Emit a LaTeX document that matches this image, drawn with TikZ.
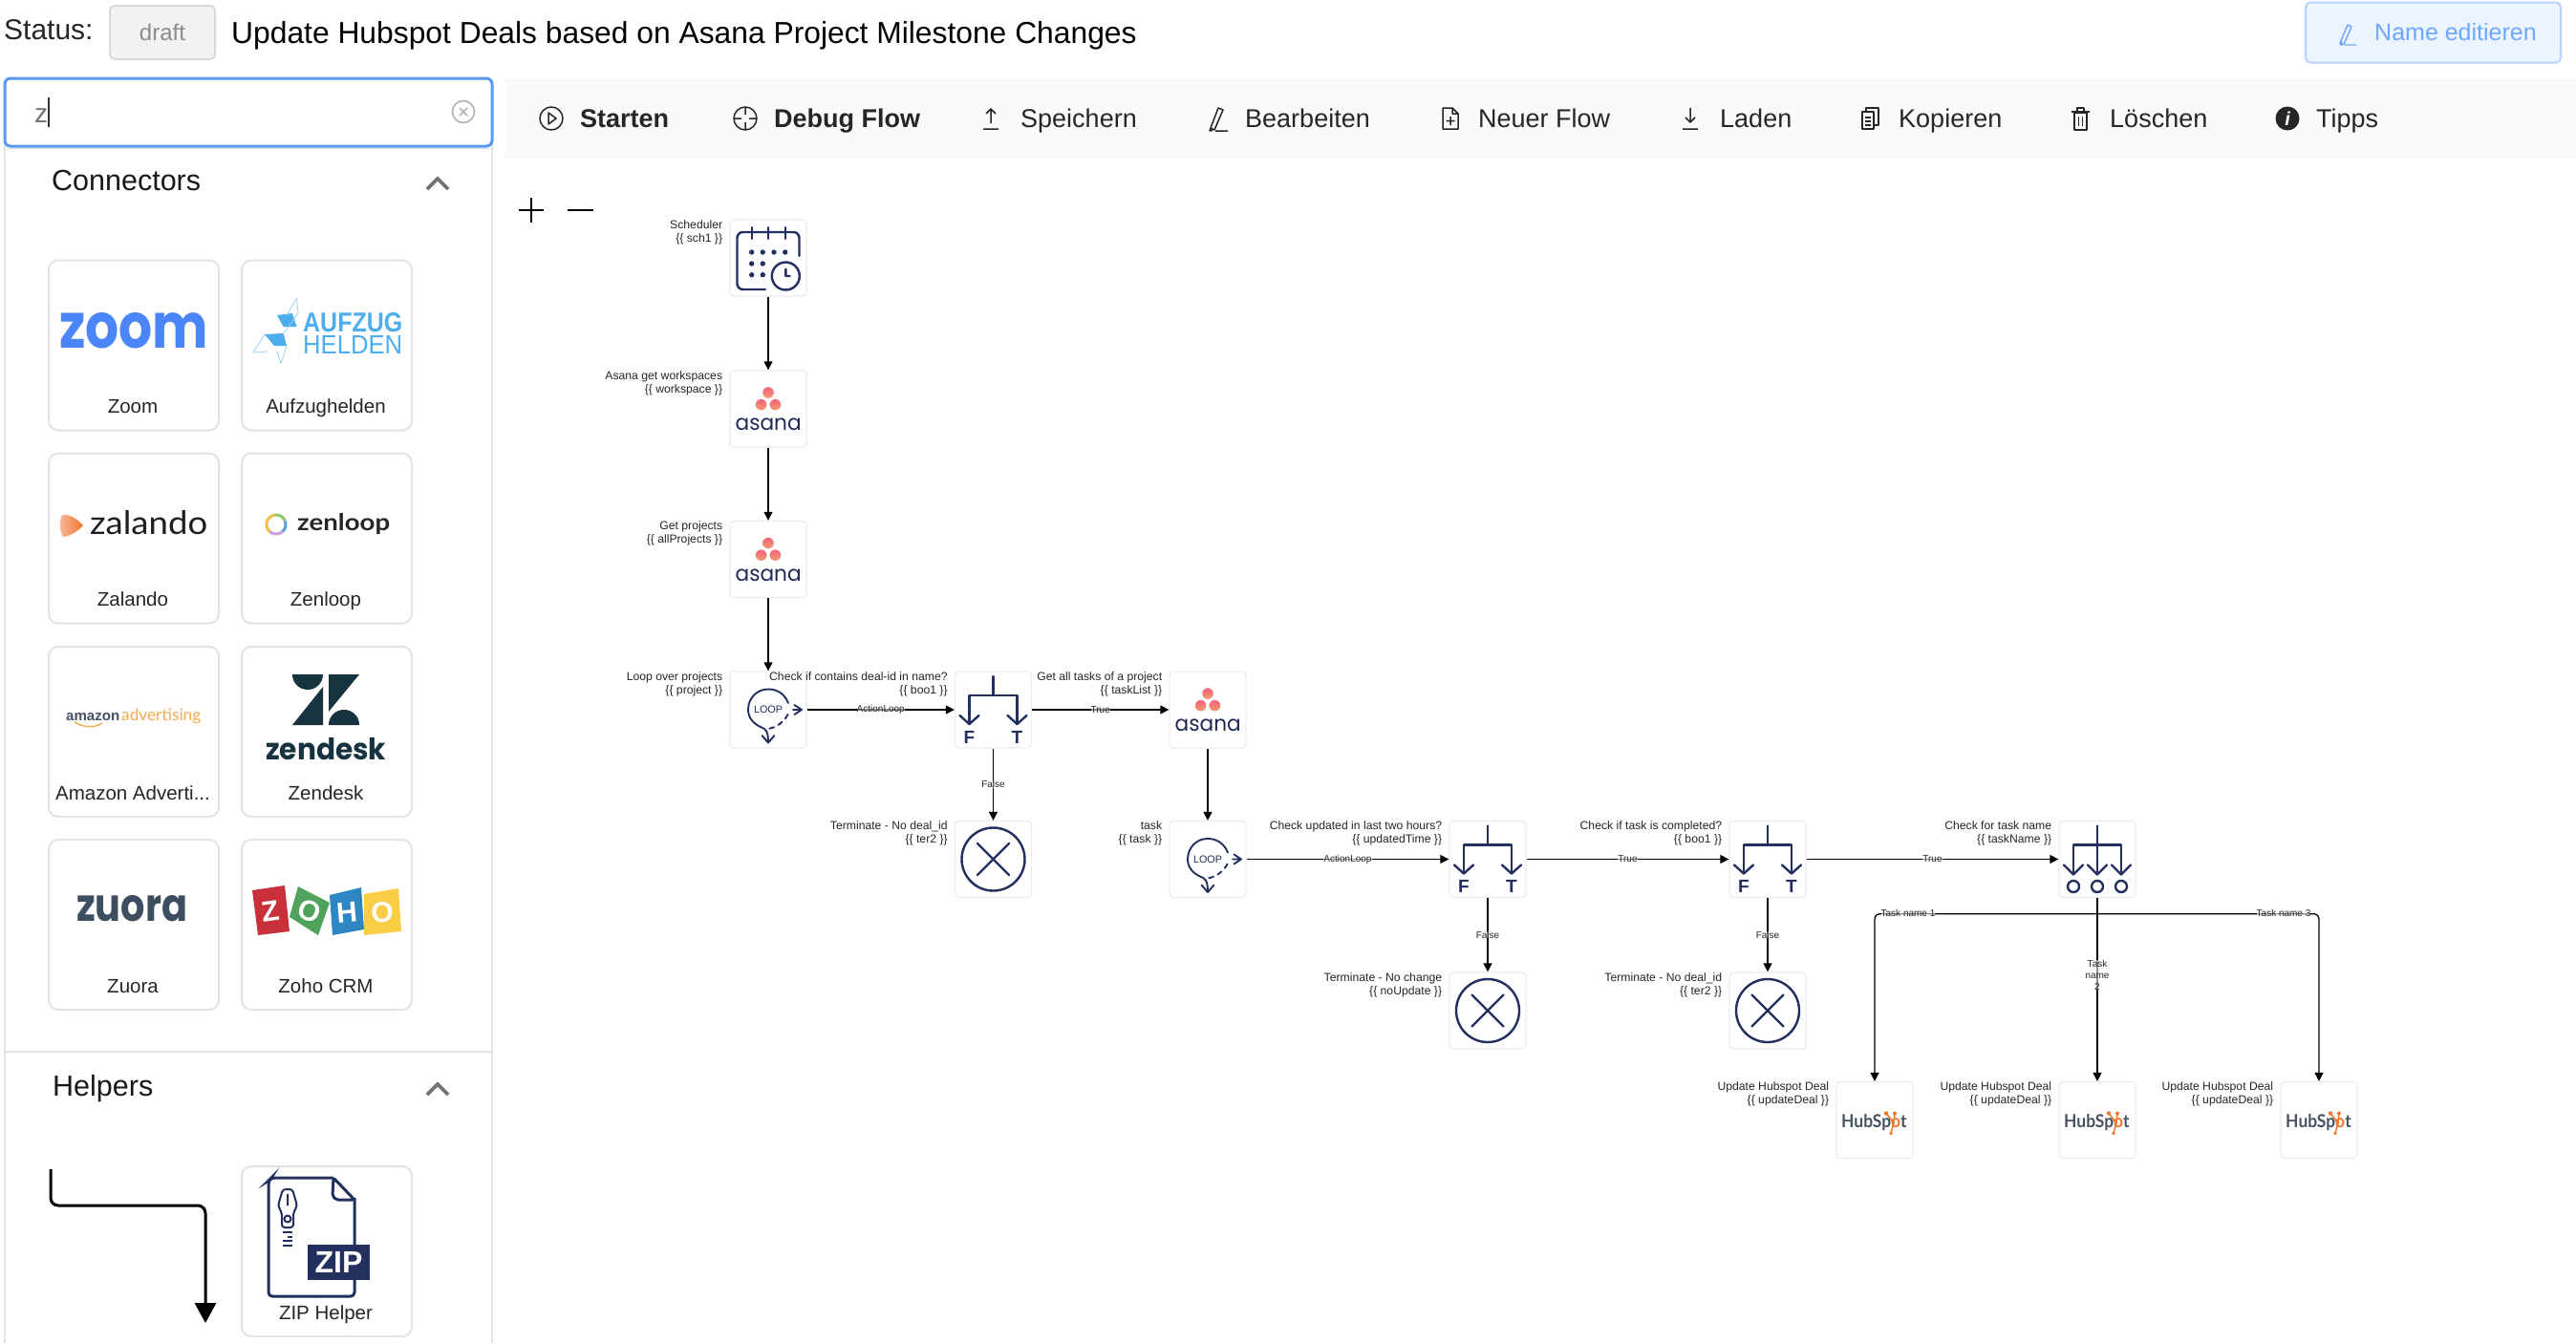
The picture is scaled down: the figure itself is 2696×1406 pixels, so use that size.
\documentclass[tikz,border=0pt]{standalone}
\usepackage{fontspec}
\usepackage{graphicx}
\setmainfont{Liberation Sans}
\newfontfamily\logof{Poppins}
\newfontfamily\latof{Lato}
\usetikzlibrary{arrows.meta,calc}
\definecolor{navy}{HTML}{232F5F}
\definecolor{cardline}{HTML}{E3E3E3}
\definecolor{stepline}{HTML}{EDEDED}
\definecolor{barbg}{HTML}{FAFAFA}
\definecolor{txt}{HTML}{262626}
\definecolor{pink}{HTML}{F0647F}
\definecolor{peach}{HTML}{F59A6E}
\definecolor{hsgray}{HTML}{465364}
\definecolor{hsorange}{HTML}{F0782D}
\definecolor{zen}{HTML}{17333F}
\definecolor{btn}{HTML}{6EA8FE}
\definecolor{searchblue}{HTML}{5899F0}
\definecolor{zoomblue}{HTML}{4A86F7}
\definecolor{azblue}{HTML}{4DAEEE}
\definecolor{azlight}{HTML}{96D0F5}
\definecolor{amzo}{HTML}{F5A94F}
\definecolor{zuo}{HTML}{3D4E60}
\definecolor{zored}{HTML}{C9303A}
\definecolor{zogreen}{HTML}{4FA35C}
\definecolor{zoblue}{HTML}{2F86C5}
\definecolor{zoyel}{HTML}{F9CE45}
\definecolor{ringa}{HTML}{F5BE46}
\definecolor{ringb}{HTML}{8CC86E}
\definecolor{ringc}{HTML}{5AA0E1}
\definecolor{ringd}{HTML}{CDA0E1}
\tikzset{
  flowstep/.style={draw=stepline,line width=1.3pt,fill=white,rounded corners=4pt,minimum width=80pt,minimum height=80pt,inner sep=0pt},
  cap1/.style={inner sep=0pt,align=right,anchor=north east,text=txt,font=\fontsize{12.2}{13.7}\selectfont},
  flow/.style={draw=black,line width=1.3pt,-{Triangle[length=9pt,width=9pt]}},
  elabel/.style={inner sep=0pt,fill=white,fill opacity=.55,text opacity=1,text=txt,align=center,font=\fontsize{10}{12}\selectfont},
  icon/.style={draw=navy,line width=2.4pt,line cap=round,line join=round},
  card/.style={draw=cardline,line width=2pt,fill=white,rounded corners=10pt,minimum width=178pt,minimum height=178pt,inner sep=0pt},
  cardtxt/.style={inner sep=0pt,anchor=base,text=txt,font=\fontsize{20.5}{24}\selectfont},
  barlbl/.style={inner sep=0pt,anchor=base west,text=txt,font=\fontsize{27}{30}\selectfont},
  baricon/.style={draw=txt,line width=1.5pt,line join=round},
  logo/.style={inner sep=0pt,anchor=base west},
}
\newcommand\IcAsana[2]{\begin{scope}[shift={(#1)}]
  \shade[top color=pink,bottom color=peach] (0,-17) circle (5.8);
  \shade[top color=pink,bottom color=peach] (-7.4,-4.3) circle (5.8);
  \shade[top color=pink,bottom color=peach] (7.4,-4.3) circle (5.8);
  \node[logo,text=navy!90!black] (#2) at (-34.5,22.7) {\resizebox{69pt}{12.6pt}{\logof asana}};
\end{scope}}
\newcommand\IcBool[1]{\begin{scope}[shift={(#1)}]
  \draw[icon] (0,-35) -- (0,-15) (-25,15) -- (-25,-15) -- (25,-15) -- (25,15);
  \draw[icon] (-35,6) -- (-25,15) -- (-15,6) (15,6) -- (25,15) -- (35,6);
  \node[inner sep=0pt,anchor=base,text=navy,font=\fontsize{19}{20}\bfseries] at (-25,35) {F};
  \node[inner sep=0pt,anchor=base,text=navy,font=\fontsize{19}{20}\bfseries] at (25,35) {T};
\end{scope}}
\newcommand\IcSwitch[1]{\begin{scope}[shift={(#1)}]
  \draw[icon] (0,-35) -- (0,16) (-25,16) -- (-25,-15) -- (25,-15) -- (25,16);
  \draw[icon] (-35,6) -- (-25,16) -- (-15,6) (-10,6) -- (0,16) -- (10,6) (15,6) -- (25,16) -- (35,6);
  \draw[icon] (-25,28.5) circle (6) (0,28.5) circle (6) (25,28.5) circle (6);
\end{scope}}
\newcommand\IcStop[1]{\begin{scope}[shift={(#1)}]
  \draw[icon] (0,0) circle (33);
  \draw[icon] (-16.5,-16.5) -- (16.5,16.5) (-16.5,16.5) -- (16.5,-16.5);
\end{scope}}
\newcommand\IcLoop[1]{\begin{scope}[shift={(#1)}]
  \draw[icon,line width=1.9pt] (21,-7) .. controls (17,-17) and (9,-21.5) .. (0,-21.5) .. controls (-12,-21.5) and (-21,-12) .. (-21,0) .. controls (-21,9) and (-15,15) .. (-7,18.5) .. controls (-3,20) and (0,22) .. (0,34);
  \draw[icon,line width=1.9pt] (-6.5,27) -- (0,34.5) -- (6.5,27);
  \draw[icon,line width=1.9pt,dash pattern=on 5pt off 5pt] (20.5,5) .. controls (17,12) and (9,19) .. (-1,20);
  \draw[icon,line width=1.9pt] (26,0) -- (35,0) (27.5,-5) -- (35,0) -- (27.5,5);
  \node[inner sep=0pt,text=navy,font=\fontsize{10.8}{12}\selectfont] at (0,0) {LOOP};
\end{scope}}
\newcommand\IcHub[2]{\begin{scope}[shift={(#1)}]
  \node[logo,text=hsgray] (#2) at (-35,8) {\resizebox{68.5pt}{14pt}{\latof\bfseries HubSp{\color{hsorange}o}t}};
  \draw[hsorange,line width=1.5pt] (12,-7) -- (20,3) (21,-7) -- (20,3) (20,3) -- (17,14);
  \fill[hsorange] (12,-7) circle (2.2) (21,-7) circle (2) (17,14) circle (1.8);
\end{scope}}
\begin{document}
\begin{tikzpicture}[x=1pt,y=-1pt]
\useasboundingbox (0,0) rectangle (2696,1406);
\fill[white] (0,0) rectangle (2696,1406);

% header
\node[inner sep=0pt,anchor=base west,text=txt,font=\fontsize{30}{32}\selectfont] (status) at (4,41.5) {Status:};
\node[draw=black!15,line width=2pt,fill=black!5,rounded corners=5pt,minimum width=110pt,minimum height=56pt,inner sep=0pt] (statbox) at (170,34) {};
\node[inner sep=0pt,anchor=base,text=black!45,font=\fontsize{24}{26}\selectfont] (draft) at (170,42) {draft};
\node[inner sep=0pt,anchor=base west,text=black,font=\fontsize{31.8}{34}\selectfont] (title) at (242,45) {Update Hubspot Deals based on Asana Project Milestone Changes};
\node[draw=btn!50,line width=2pt,fill=btn!13,rounded corners=5pt,minimum width=267pt,minimum height=63pt,inner sep=0pt] (namebtn) at (2546.5,34) {};
\node[inner sep=0pt,anchor=base west,text=btn,font=\fontsize{25}{27}\selectfont] (nametxt) at (2485,42) {Name editieren};
\draw[btn,line width=1.4pt,line join=round] (2451,43) -- (2449,46) -- (2451,47.5) (2449,45) -- (2457,26) -- (2461,28) -- (2453,46.5) -- cycle (2454,47) -- (2466,47);

% toolbar
\fill[barbg] (529,82) rectangle (2696,166);
\node[barlbl,font=\fontsize{27}{30}\bfseries] (b1) at (607,133) {Starten};
\node[barlbl,font=\fontsize{27}{30}\bfseries] (b2) at (810,133) {Debug Flow};
\node[barlbl] (b3) at (1068,133) {Speichern};
\node[barlbl] (b4) at (1303,133) {Bearbeiten};
\node[barlbl] (b5) at (1547,133) {Neuer Flow};
\node[barlbl] (b6) at (1800,133) {Laden};
\node[barlbl] (b7) at (1987,133) {Kopieren};
\node[barlbl] (b8) at (2208,133) {Löschen};
\node[barlbl] (b9) at (2424,133) {Tipps};
\draw[baricon] (577,124) circle (12) (574,118) -- (582,124) -- (574,130) -- cycle;
\draw[baricon] (780,124) circle (12) (780,112) -- (780,120) (780,128) -- (780,136) (768,124) -- (776,124) (784,124) -- (792,124);
\draw[baricon] (1037,129) -- (1037,114) (1032,119) -- (1037,114) -- (1042,119) (1029,135) -- (1045,135);
\draw[baricon] (1267,134) -- (1266,137) -- (1269,136.5) (1267,134) -- (1275,113) -- (1280,115) -- (1271,136) -- cycle (1272,137) -- (1285,137);
\draw[baricon] (1510,113) -- (1520,113) -- (1526,119) -- (1526,135) -- (1510,135) -- cycle (1520,113) -- (1520,119) -- (1526,119) (1518,122) -- (1518,131) (1513.5,126.5) -- (1522.5,126.5);
\draw[baricon] (1769,113) -- (1769,128) (1764,123) -- (1769,128) -- (1774,123) (1761,135) -- (1777,135);
\draw[baricon] (1949,117) rectangle (1961,135) (1953,117) -- (1953,113) -- (1966,113) -- (1966,131) -- (1961,131) (1952,123) -- (1958,123) (1952,127) -- (1958,127) (1952,131) -- (1958,131);
\draw[baricon] (2171,118) rectangle (2184,136) (2168,117) -- (2187,117) (2174,117) -- (2174,113) -- (2181,113) -- (2181,117) (2175.5,122) -- (2175.5,132) (2179.5,122) -- (2179.5,132);
\fill[txt] (2394,124) circle (12.5);
\node[inner sep=0pt,text=white,font=\fontsize{20}{20}\bfseries\itshape] (tipi) at (2394,124) {i};

% side panel
\draw[cardline,line width=2.5pt] (5,150) -- (5,1406) (515,150) -- (515,1406) (5,1101) -- (515,1101);
\node[fill=white,minimum width=510pt,minimum height=71pt,inner sep=0pt] (search) at (260,117.5) {};
\draw[draw=searchblue,line width=3pt,rounded corners=6pt] (5,82) rectangle (515,153);
\draw[black!14,line width=1.5pt] (7,155.5) -- (513,155.5);
\node[inner sep=0pt,anchor=base west,text=black!55,font=\fontsize{28}{30}\selectfont] (ztxt) at (36,128) {z};
\draw[black!80,line width=1.3pt] (51,102) -- (51,133);
\draw[black!30,line width=1.6pt] (485,117) circle (11.5) (481,113) -- (489,121) (481,121) -- (489,113);

\node[inner sep=0pt,anchor=base west,text=black!90,font=\fontsize{30.5}{33}\selectfont] (conn) at (54,199) {Connectors};
\node[inner sep=0pt,anchor=base west,text=black!90,font=\fontsize{30.5}{33}\selectfont] (help) at (55,1147) {Helpers};
\draw[black!55,line width=3.8pt,line join=miter] (447,198) -- (458,187) -- (469,198) (447,1146) -- (458,1135) -- (469,1146);

% cards
\node[card] (c1) at (140,361.5) {};
\node[card] (c2) at (342,361.5) {};
\node[card] (c3) at (140,563.5) {};
\node[card] (c4) at (342,563.5) {};
\node[card] (c5) at (140,766) {};
\node[card] (c6) at (342,766) {};
\node[card] (c7) at (140,968) {};
\node[card] (c8) at (342,968) {};
\node[card] (c9) at (342,1310) {};
\node[cardtxt] (t1) at (139,432) {Zoom};
\node[cardtxt] (t2) at (341,432) {Aufzughelden};
\node[cardtxt] (t3) at (139,634) {Zalando};
\node[cardtxt] (t4) at (341,634) {Zenloop};
\node[cardtxt] (t5) at (139,837) {Amazon Adverti...};
\node[cardtxt] (t6) at (341,837) {Zendesk};
\node[cardtxt] (t7) at (139,1039) {Zuora};
\node[cardtxt] (t8) at (341,1039) {Zoho CRM};
\node[cardtxt] (t9) at (341,1381) {ZIP Helper};

% logos
\node[logo,text=zoomblue] (lzoom) at (62,364) {\resizebox{156pt}{37pt}{\logof\bfseries zoom}};
\node[logo,text=azblue] (laz1) at (317,347) {\resizebox{104pt}{20pt}{\bfseries AUFZUG}};
\node[logo,text=azblue] (laz2) at (317,370) {\resizebox{104pt}{19pt}{HELDEN}};
\fill[azblue] (290,330) -- (306,328) -- (310.6,342) -- (296.5,342) -- cycle (277,350) -- (296.5,349) -- (300,362) -- (287,362) -- cycle;
\draw[azlight,line width=.8pt] (310.6,312) -- (300,330) (310.6,312) -- (312,328) -- (296,350) (277,350) -- (265,369) -- (280,368) (300,362) -- (297,372) -- (294,380) -- (290,368);
\shade[left color=peach!70!white,right color=hsorange] (65,539) .. controls (75,538) and (82,545) .. (87,550) .. controls (82,556) and (72,562) .. (66,562) .. controls (62,555) and (62,545) .. (65,539) -- cycle;
\node[logo,text=black!88] (lzal) at (94,559) {\resizebox{123pt}{25pt}{\latof zalando}};
\draw[line width=3pt,ringa] plot[domain=170:240,samples=10] ({289+10*cos(\x)},{549-10*sin(\x)});
\draw[line width=3pt,ringa] plot[domain=100:170,samples=10] ({289+10*cos(\x)},{549-10*sin(\x)});
\draw[line width=3pt,ringb] plot[domain=20:100,samples=10] ({289+10*cos(\x)},{549-10*sin(\x)});
\draw[line width=3pt,ringc] plot[domain=-50:20,samples=10] ({289+10*cos(\x)},{549-10*sin(\x)});
\draw[line width=3pt,ringd] plot[domain=-130:-50,samples=10] ({289+10*cos(\x)},{549-10*sin(\x)});
\node[logo,text=black!85] (lzen) at (311,555) {\resizebox{97pt}{18pt}{\latof\bfseries zenloop}};
\node[logo,text=hsgray] (lam1) at (69,754) {\resizebox{56pt}{!}{\bfseries amazon}};
\node[logo,text=amzo] (lam2) at (127,754) {\resizebox{83pt}{!}{\latof advertising}};
\draw[amzo,line width=1.4pt] (78,756) .. controls (88,762) and (99,762) .. (107,757);
\fill[zen] (306,706) .. controls (306,715) and (313,722) .. (322,722) .. controls (331,722) and (338,715) .. (338,706) -- cycle;
\fill[zen] (338,719) -- (338,759) -- (306,759) -- cycle;
\fill[zen] (344,706) -- (376,706) -- (344,745) -- cycle;
\fill[zen] (344,759) .. controls (344,750) and (351,743) .. (360,743) .. controls (369,743) and (376,750) .. (376,759) -- cycle;
\node[logo,text=zen] (lzend) at (278,795) {\resizebox{126pt}{23pt}{\logof\bfseries zendesk}};
\node[logo,text=zuo] (lzuo) at (80,964) {\resizebox{116pt}{27pt}{\logof\bfseries zuora}};
% zoho
\fill[zored] (264,932) -- (298,927) -- (303,975) -- (270,979) -- cycle;
\fill[zogreen] (312,928) -- (345,945) -- (333,979) -- (303,960) -- cycle;
\fill[zoblue] (345,937) -- (378,929) -- (381,973) -- (348,979) -- cycle;
\fill[zoyel] (381,936) -- (417,930) -- (420,975) -- (381,979) -- cycle;
\node[inner sep=0pt,text=white,rotate=8,font=\fontsize{30}{30}\bfseries] (zh1) at (283,954) {Z};
\node[inner sep=0pt,text=white,rotate=-20,font=\fontsize{30}{30}\bfseries] (zh2) at (324,954) {O};
\node[inner sep=0pt,text=white,rotate=5,font=\fontsize{30}{30}\bfseries] (zh3) at (363,955) {H};
\node[inner sep=0pt,text=white,font=\fontsize{30}{30}\bfseries] (zh4) at (400,955) {O};
% helper arrow
\coordinate (ha) at (53,1224);
\coordinate (hb) at (215,1385);
\draw[black,line width=3pt,rounded corners=8pt,-{Triangle[length=21pt,width=22pt]}] (ha) |- (215,1262) -- (hb);
% zip
\draw[navy,line width=3pt,rounded corners=4pt] (349,1233) -- (284,1233) -- (281,1236) -- (281,1357) -- (371,1357) -- (371,1254);
\draw[navy,line width=3pt,line join=round,rounded corners=2pt] (349,1233) -- (371,1256) -- (352,1256) -- (348,1252) -- cycle;
\draw[navy,line width=2pt,rounded corners=3pt] (296,1245) -- (306,1245) -- (311,1262) -- (307,1270) -- (307,1285) -- (295,1285) -- (295,1270) -- (291,1262) -- cycle;
\draw[navy,line width=2pt] (301,1276) circle (3.5) (301,1250) -- (301,1262);
\draw[navy,line width=2pt] (296,1290) -- (306,1290) (301,1295) -- (306,1295) (296,1299) -- (306,1299) (296,1304) -- (306,1304);
\fill[navy] (322,1303) rectangle (387,1340);
\node[inner sep=0pt,text=white,font=\fontsize{32}{32}\bfseries] (ziptxt) at (354.5,1321.5) {ZIP};

% zoom controls
\coordinate (zp) at (556,220);
\draw[black,line width=2.2pt] ($(zp)+(-13,0)$) -- ($(zp)+(13,0)$) ($(zp)+(0,-13)$) -- ($(zp)+(0,13)$);
\draw[black,line width=2.2pt] (594,220) -- (621,220);

% flow nodes
\node[flowstep] (sch) at (804,270) {};
\node[flowstep] (as1) at (804,428) {};
\node[flowstep] (as2) at (804,585.5) {};
\node[flowstep] (lp1) at (804,743) {};
\node[flowstep] (bo1) at (1039.5,743) {};
\node[flowstep] (as3) at (1264,743) {};
\node[flowstep] (te1) at (1039.5,899.5) {};
\node[flowstep] (lp2) at (1264,899.5) {};
\node[flowstep] (bo2) at (1557,899.5) {};
\node[flowstep] (bo3) at (1850,899.5) {};
\node[flowstep] (swi) at (2195,899.5) {};
\node[flowstep] (te2) at (1557,1058) {};
\node[flowstep] (te3) at (1850,1058) {};
\node[flowstep] (hu1) at (1962,1172.5) {};
\node[flowstep] (hu2) at (2195,1172.5) {};
\node[flowstep] (hu3) at (2427,1172.5) {};

% captions
\newcommand\capt[3]{\node[cap1] (cap#1) at ($(#1.north west)+(-7,1)$) {#2\\#3};}
\capt{sch}{Scheduler}{\{\{ sch1 \}\}}
\capt{as1}{Asana get workspaces}{\{\{ workspace \}\}}
\capt{as2}{Get projects}{\{\{ allProjects \}\}}
\capt{lp1}{Loop over projects}{\{\{ project \}\}}
\capt{bo1}{Check if contains deal-id in name?}{\{\{ boo1 \}\}}
\capt{as3}{Get all tasks of a project}{\{\{ taskList \}\}}
\capt{te1}{Terminate - No deal\_id}{\{\{ ter2 \}\}}
\capt{lp2}{task}{\{\{ task \}\}}
\capt{bo2}{Check updated in last two hours?}{\{\{ updatedTime \}\}}
\capt{bo3}{Check if task is completed?}{\{\{ boo1 \}\}}
\capt{swi}{Check for task name}{\{\{ taskName \}\}}
\capt{te2}{Terminate - No change}{\{\{ noUpdate \}\}}
\capt{te3}{Terminate - No deal\_id}{\{\{ ter2 \}\}}
\capt{hu1}{Update Hubspot Deal}{\{\{ updateDeal \}\}}
\capt{hu2}{Update Hubspot Deal}{\{\{ updateDeal \}\}}
\capt{hu3}{Update Hubspot Deal}{\{\{ updateDeal \}\}}

% connectors
\draw[flow] (sch.south) -- (as1.north);
\draw[flow] (as1.south) -- (as2.north);
\draw[flow] (as2.south) -- (lp1.north);
\draw[flow] (lp1.east) -- (bo1.west) node[midway,elabel] (e1) {ActionLoop};
\draw[flow] (bo1.east) -- (as3.west) node[midway,elabel] (e2) {True};
\draw[flow] (bo1.south) -- (te1.north) node[midway,elabel] (e3) {False};
\draw[flow] (as3.south) -- (lp2.north);
\draw[flow] (lp2.east) -- (bo2.west) node[midway,elabel] (e4) {ActionLoop};
\draw[flow] (bo2.east) -- (bo3.west) node[midway,elabel] (e5) {True};
\draw[flow] (bo2.south) -- (te2.north) node[midway,elabel] (e6) {False};
\draw[flow] (bo3.east) -- (swi.west) node[midway,elabel] (e7) {True};
\draw[flow] (bo3.south) -- (te3.north) node[midway,elabel] (e8) {False};
\coordinate (junc) at ($(swi.south)+(0,16.5)$);
\draw[flow] (swi.south) -- (hu2.north) node[pos=.42,elabel] (e10) {Task\\name\\2};
\draw[flow,rounded corners=5pt] (junc) -| (hu1.north);
\draw[flow,rounded corners=5pt] (junc) -| (hu3.north);
\node[elabel] (e9) at (1997,956) {Task name 1};
\node[elabel] (e11) at (2390,956) {Task name 3};

% icons
\begin{scope}[shift={(sch.center)}]
  \draw[icon,rounded corners=6pt] (32.5,-2) -- (32.5,-27) -- (-32.5,-27) -- (-32.5,33) -- (-3,33);
  \draw[icon] (-17.3,-32) -- (-17.3,-20) (0,-32) -- (0,-20) (17.7,-32) -- (17.7,-20);
  \fill[navy] (-17.3,-6) circle (2.7) (-5.7,-6) circle (2.7) (6,-6) circle (2.7) (17.7,-6) circle (2.7)
    (-17.3,6) circle (2.7) (-5.7,6) circle (2.7) (-17.3,17.7) circle (2.7) (-5.7,17.7) circle (2.7);
  \draw[icon] (18.3,19) circle (14.5) (18.3,11.7) -- (18.3,19) -- (22.7,19);
\end{scope}
\IcAsana{as1.center}{asl1}
\IcAsana{as2.center}{asl2}
\IcAsana{as3.center}{asl3}
\IcLoop{lp1.center}
\IcLoop{lp2.center}
\IcBool{bo1.center}
\IcBool{bo2.center}
\IcBool{bo3.center}
\IcSwitch{swi.center}
\IcStop{te1.center}
\IcStop{te2.center}
\IcStop{te3.center}
\IcHub{hu1.center}{hsl1}
\IcHub{hu2.center}{hsl2}
\IcHub{hu3.center}{hsl3}
\end{tikzpicture}
\end{document}
